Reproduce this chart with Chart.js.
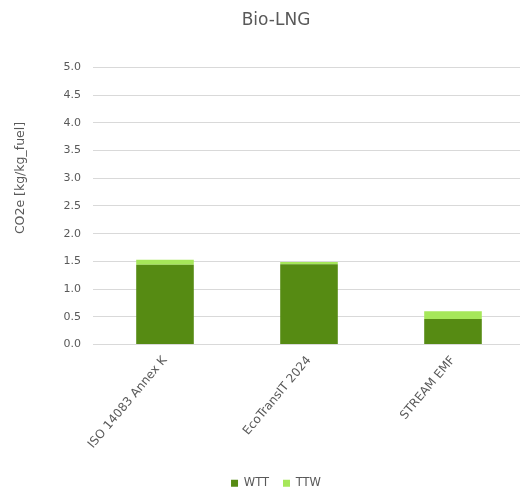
<!DOCTYPE html>
<html>
<head>
<meta charset="utf-8">
<script src="https://cdn.jsdelivr.net/npm/chart.js@4/dist/chart.umd.min.js"></script>
<style>
  html, body { margin: 0; padding: 0; background: #fff; overflow: hidden; }
  #wrap { width: 552px; height: 491px; position: relative; }
</style>
</head>
<body>
<div id="wrap"><canvas id="c"></canvas></div>
<script>
// Emission sources compared
const categories = ['ISO 14083 Annex K', 'EcoTransIT 2024', 'STREAM EMF'];
// Well-to-tank and tank-to-wheel CO2e per kg of fuel
const wttValues = [1.44, 1.45, 0.46];
const ttwValues = [0.09, 0.04, 0.14];
const yTicks = [0, 0.5, 1, 1.5, 2, 2.5, 3, 3.5, 4, 4.5, 5];

const textColor = '#595959';
const fontFamily = '"DejaVu Sans", Verdana, sans-serif';

// Y-axis caption drawn beside the ticks
const yCaption = {
  id: 'yCaption',
  afterDraw(chart) {
    const ctx = chart.ctx;
    ctx.save();
    ctx.translate(21, 178);
    ctx.rotate(-Math.PI / 2);
    ctx.font = '12.5px ' + fontFamily;
    ctx.fillStyle = textColor;
    ctx.textAlign = 'center';
    ctx.textBaseline = 'middle';
    ctx.fillText('CO2e [kg/kg_fuel]', 0, 0);
    ctx.restore();
  }
};

new Chart(document.getElementById('c'), {
  type: 'bar',
  data: {
    labels: categories,
    datasets: [
      { label: 'WTT', data: wttValues, backgroundColor: '#568b13', borderWidth: 0 },
      { label: 'TTW', data: ttwValues, backgroundColor: '#a6e75a', borderWidth: 0 }
    ]
  },
  options: {
    responsive: true,
    maintainAspectRatio: false,
    animation: false,
    layout: { padding: { left: 0, right: 0, top: 0, bottom: -8 } },
    datasets: { bar: { barPercentage: 0.4, categoryPercentage: 1.0 } },
    plugins: {
      title: {
        display: true,
        text: 'Bio-LNG',
        color: textColor,
        font: { family: fontFamily, size: 17, weight: 'normal' },
        padding: { top: 10, bottom: 37 }
      },
      legend: {
        position: 'bottom',
        labels: {
          color: textColor,
          font: { family: fontFamily, size: 11.5 },
          boxWidth: 7,
          boxHeight: 7,
          padding: 14
        }
      },
      tooltip: { enabled: false }
    },
    scales: {
      x: {
        stacked: true,
        grid: { display: false, drawTicks: false },
        border: { display: true, color: '#d9d9d9' },
        afterFit(scale) { scale.height = 119; },
        ticks: {
          color: textColor,
          font: { family: fontFamily, size: 12 },
          minRotation: 50,
          maxRotation: 50,
          padding: 9
        }
      },
      y: {
        stacked: true,
        min: 0,
        max: 5,
        afterBuildTicks(scale) { scale.ticks = yTicks.map(v => ({ value: v })); },
        afterFit(scale) { scale.width = 93; },
        grid: { color: '#d9d9d9', drawTicks: false },
        border: { display: false },
        ticks: {
          color: textColor,
          font: { family: fontFamily, size: 11 },
          padding: 12,
          callback: v => Number(v).toFixed(1)
        }
      },
      // empty right-hand gutter
      gutter: {
        type: 'linear',
        position: 'right',
        display: true,
        afterFit(scale) { scale.width = 27; },
        grid: { display: false, drawTicks: false },
        border: { display: false },
        ticks: { display: false }
      }
    }
  },
  plugins: [yCaption]
});
</script>
</body>
</html>
